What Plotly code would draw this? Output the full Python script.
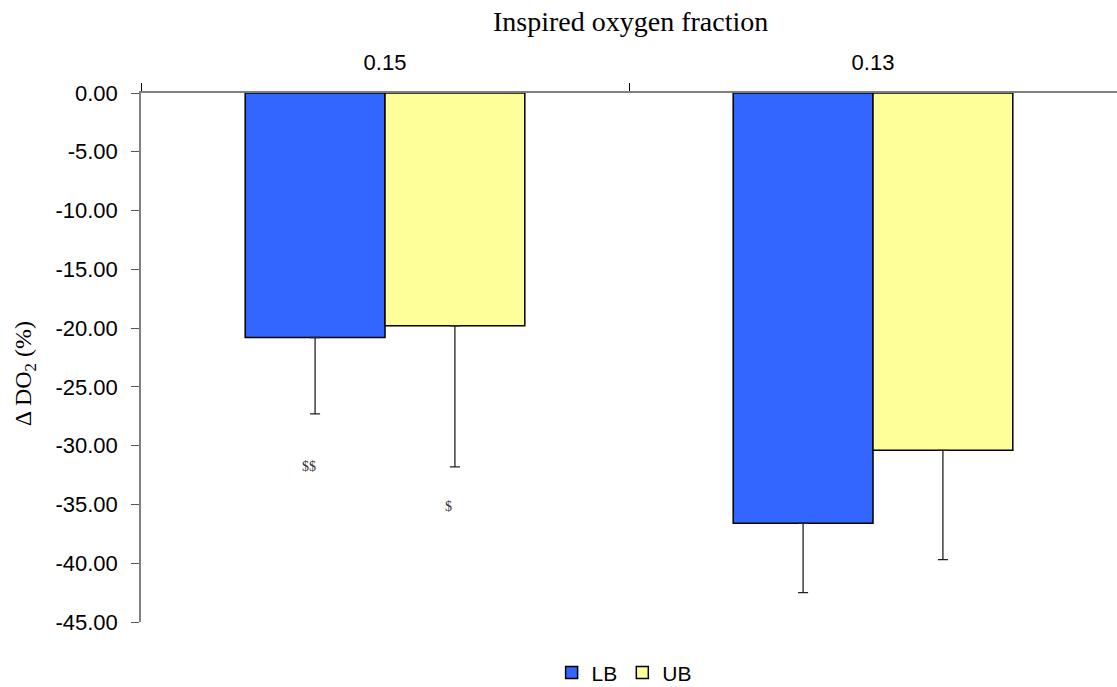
import plotly.graph_objects as go

# Inspired oxygen fraction groups and change in oxygen delivery (%)
fractions = ["0.15", "0.13"]
lb_values = [-20.8, -36.6]
ub_values = [-19.8, -30.4]
lb_err = [6.5, 5.9]
ub_err = [12.0, 9.3]

y_ticks = [0, -5, -10, -15, -20, -25, -30, -35, -40, -45]
y_tick_text = ["%.2f" % v if v == 0 else "-%.2f" % abs(v) for v in y_ticks]

# significance markers: (x position in category units, y value, text)
marks_x = [-0.156, 0.131]
marks_y = [-31.8, -35.2]
marks_text = ["$$", "$"]

SANS = "Liberation Sans, Arial, sans-serif"
SERIF = "Liberation Serif, Times New Roman, serif"

fig = go.Figure()
fig.add_trace(go.Bar(
    name="LB", x=fractions, y=lb_values,
    marker=dict(color="#3366FF", line=dict(color="#000000", width=1.5)),
    error_y=dict(type="data", symmetric=False, array=[0, 0], arrayminus=lb_err,
                 color="#222222", thickness=1.3, width=5),
))
fig.add_trace(go.Bar(
    name="UB", x=fractions, y=ub_values,
    marker=dict(color="#FFFF99", line=dict(color="#000000", width=1.5)),
    error_y=dict(type="data", symmetric=False, array=[0, 0], arrayminus=ub_err,
                 color="#222222", thickness=1.3, width=5),
))

for mx, my, mt in zip(marks_x, marks_y, marks_text):
    fig.add_annotation(x=mx, y=my, text=mt, showarrow=False,
                       font=dict(family=SERIF, size=14, color="#333333"))

# axis titles
fig.add_annotation(text="Inspired oxygen fraction", xref="paper", yref="paper",
                   x=0.502, y=1.136, xanchor="center", yanchor="middle", showarrow=False,
                   font=dict(family=SERIF, size=28, color="#000000"))
fig.add_annotation(text="Δ DO<sub>2</sub> (%)", xref="paper", yref="paper",
                   x=-0.118, y=0.47, xanchor="center", yanchor="middle", showarrow=False,
                   textangle=-90, font=dict(family=SERIF, size=24, color="#000000"))

fig.update_layout(
    width=1117, height=687,
    margin=dict(l=141, r=0, t=93, b=65, autoexpand=False),
    paper_bgcolor="white", plot_bgcolor="white",
    barmode="group", bargap=0.427, bargroupgap=0,
    showlegend=True,
    legend=dict(orientation="h", x=0.495, xanchor="center", y=-0.096, yanchor="middle",
                font=dict(family=SANS, size=21, color="#000000"),
                itemwidth=30, traceorder="normal"),
    xaxis=dict(
        side="top", type="category",
        tickfont=dict(family=SANS, size=22, color="#000000"),
        ticklabelstandoff=12,
        showline=True, linecolor="#808080", linewidth=1.5,
        ticks="outside", tickson="boundaries", ticklen=8, tickcolor="#000000", tickwidth=1,
        showgrid=False, zeroline=False,
    ),
    yaxis=dict(
        range=[-45, 0], tickvals=y_ticks, ticktext=y_tick_text,
        tickfont=dict(family=SANS, size=22, color="#000000"),
        ticklabelstandoff=9,
        showline=True, linecolor="#808080", linewidth=1.5,
        ticks="outside", ticklen=8, tickcolor="#555555", tickwidth=1,
        showgrid=False, zeroline=False,
    ),
)

fig.write_html("out.html")
